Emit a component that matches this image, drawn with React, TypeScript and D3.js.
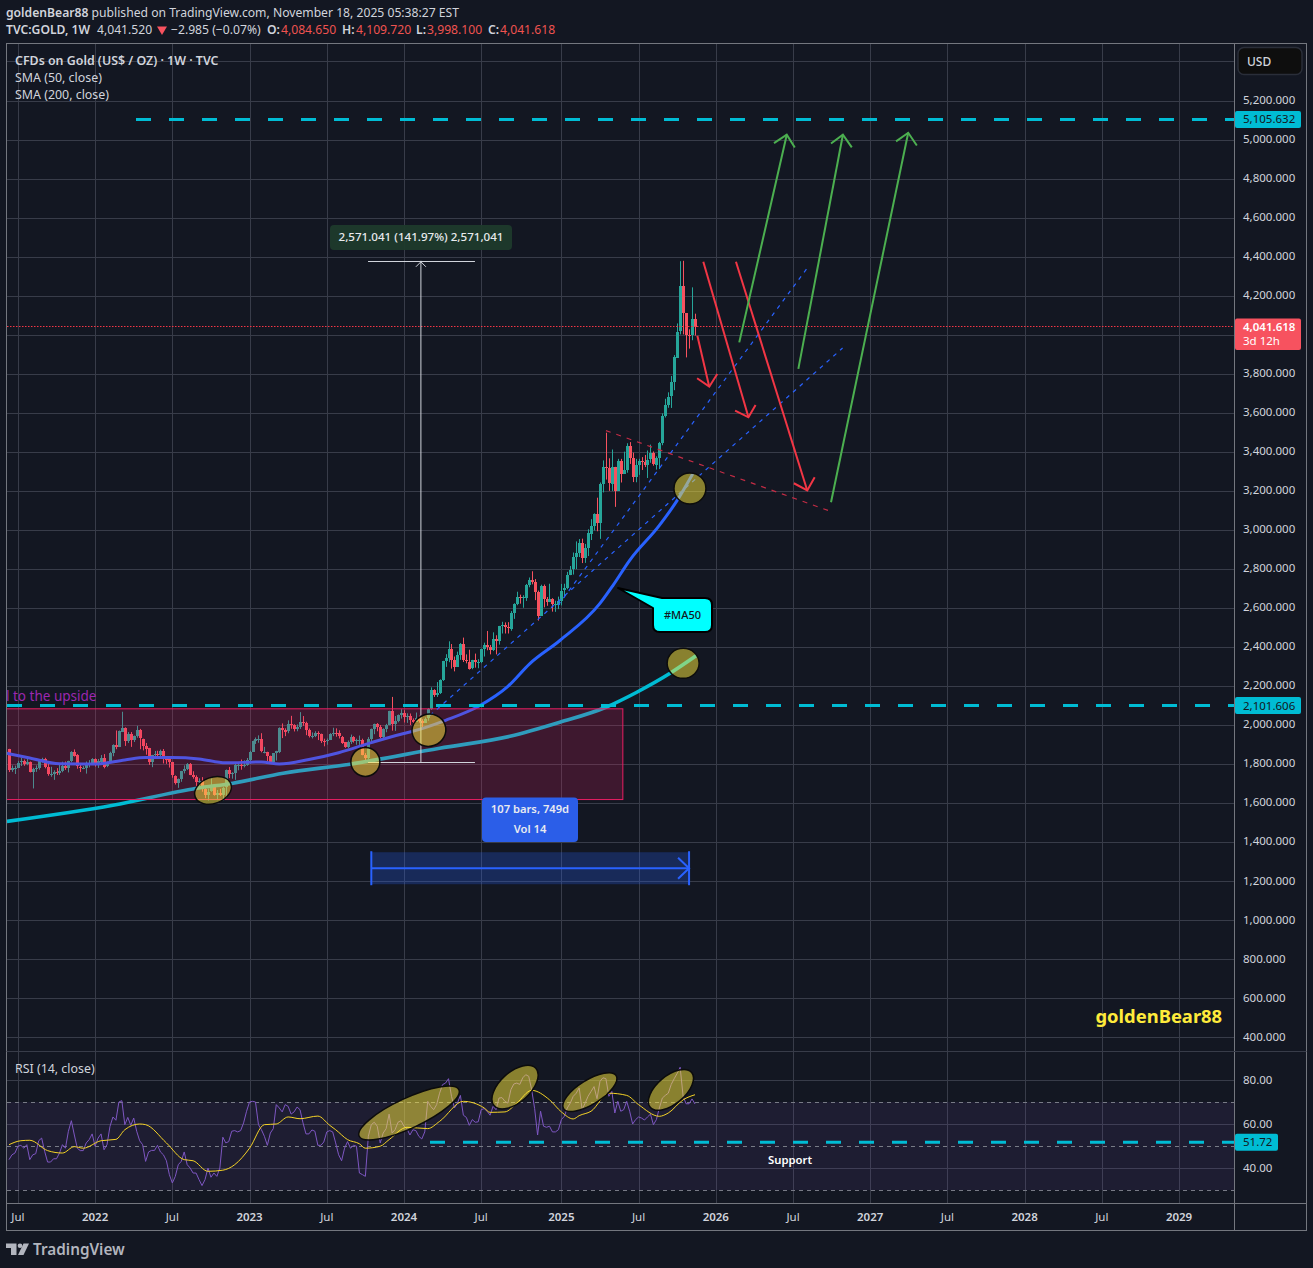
import React from "react";
import * as d3 from "d3";

const W = 1313;
const H = 1268;
const FONT = "'Noto Sans', sans-serif";

const firstDate = "2021-06-14";
const lastDate = "2025-11-17";
const firstOpen = 1879;

const closes = [
  1769,1781,1784,1808,1815,1802,1814,1763,1779,1781,1817,1828,1787,1751,1751,1761,1757,1768,1793,1783,1818,1865,1846,1788,1783,1783,1798,1808,1829,
  1797,1817,1835,1791,1808,1859,1899,1889,1970,1988,1921,1958,1925,1945,1975,1932,1896,1883,1811,1846,1853,1850,1871,1840,1827,1811,1742,1708,1727,1766,1775,1802,1747,1737,1712,1716,1675,1644,1661,1694,1644,1656,1644,1681,1769,1751,1754,1797,1797,1792,1798,1824,
  1865,1920,1928,1928,1865,1865,1842,1811,1856,1868,1989,1978,1969,2007,2004,1982,1990,2016,2011,1977,1946,1948,1961,1957,1921,1919,1925,1955,1961,1959,1943,1914,1889,1914,1940,1919,1924,1925,1849,1833,1932,1981,2006,1992,1940,1981,2001,2072,2004,2020,2053,2063,
  2045,2049,2029,2018,2039,2024,2013,2035,2083,2179,2155,2165,2233,2329,2344,2392,2337,2301,2360,2415,2334,2327,2293,2333,2321,2327,2392,2411,2400,2387,2443,2431,2507,2512,2503,2497,2577,2621,2658,2653,2656,2721,2747,2737,2685,2563,2715,2649,2633,2648,2621,2621,2640,
  2690,2702,2770,2798,2861,2883,2935,2857,2909,2984,3023,3084,3037,3237,3326,3319,3240,3325,3204,3357,3289,3310,3432,3368,3273,3337,3355,3350,3337,3362,3394,3336,3371,3447,3586,3643,3685,3759,3886,4017,4250,4113,4002,4001,4084,4041,
];
const highs = [
  1880,1795,1794,1818,1834,1825,1832,1815,1783,1795,1823,1834,1834,1809,1788,1770,1781,1801,1814,1815,1819,1868,1877,1853,1797,1792,1815,1822,1832,
  1831,1828,1848,1853,1815,1865,1903,1974,1974,2070,1990,1966,1966,1948,1998,1982,1920,1910,1885,1849,1869,1870,1876,1879,1841,1840,1813,1744,1728,1767,1795,1807,1807,1765,1744,1729,1735,1688,1676,1729,1695,1669,1675,1686,1774,1787,1760,1805,1810,1825,1821,1833,
  1870,1922,1938,1949,1960,1890,1864,1845,1858,1870,1990,2010,1985,2026,2049,2006,2005,2068,2048,2019,1984,1964,1970,1970,1958,1932,1933,1960,1988,1985,1975,1946,1915,1923,1953,1945,1932,1948,1932,1858,1940,1984,2009,2012,2002,1985,2008,2075,2146,2048,2056,2083,
  2078,2062,2061,2036,2066,2050,2032,2041,2089,2195,2185,2222,2236,2331,2365,2431,2417,2353,2378,2422,2450,2364,2388,2336,2368,2339,2393,2424,2484,2412,2477,2462,2510,2531,2528,2529,2586,2626,2685,2670,2667,2725,2758,2790,2750,2691,2721,2722,2658,2726,2652,2639,2660,
  2725,2726,2787,2817,2886,2943,2955,2957,2930,3005,3057,3087,3167,3245,3358,3500,3369,3414,3252,3366,3366,3403,3446,3452,3398,3366,3366,3375,3386,3409,3439,3404,3379,3453,3599,3674,3707,3791,3898,4060,4379,4381,4046,4030,4245,4110,
];
const lows = [
  1761,1762,1751,1782,1792,1793,1796,1759,1677,1762,1773,1809,1780,1742,1737,1721,1746,1746,1760,1772,1759,1811,1840,1778,1761,1776,1753,1785,1802,
  1789,1782,1805,1780,1786,1807,1842,1878,1890,1966,1895,1910,1890,1915,1937,1878,1872,1850,1798,1786,1829,1828,1828,1805,1803,1784,1732,1697,1680,1711,1754,1771,1745,1727,1688,1691,1660,1627,1615,1660,1640,1617,1638,1616,1629,1730,1727,1721,1770,1773,1785,1793,
  1802,1866,1905,1911,1862,1857,1817,1804,1804,1820,1858,1935,1945,1960,1983,1969,1970,1982,1998,1950,1938,1933,1940,1925,1910,1893,1901,1925,1945,1942,1933,1905,1885,1884,1905,1912,1901,1900,1847,1810,1825,1916,1955,1970,1934,1932,1965,2001,1973,1972,2016,2035,
  2015,2013,2002,2011,2022,2014,1984,2016,2024,2080,2146,2146,2161,2228,2300,2324,2291,2277,2300,2336,2325,2318,2286,2288,2296,2293,2319,2353,2385,2364,2381,2364,2414,2471,2471,2471,2485,2546,2616,2624,2603,2638,2708,2723,2642,2537,2563,2605,2613,2632,2583,2582,2596,
  2615,2656,2698,2772,2773,2801,2863,2832,2833,2868,2950,2999,2995,2956,3194,3260,3202,3202,3120,3205,3245,3294,3295,3340,3247,3246,3284,3309,3324,3268,3346,3331,3311,3314,3436,3578,3628,3627,3718,3887,4004,4004,3886,3931,3974,3998,
];
const rsi = [
  43.8,46,46.8,49.9,50.3,49,50.6,43.8,46,46.5,52.4,53.6,47.6,42.7,42.7,44.2,44.2,46.8,50.6,49,56.7,61.5,55,49,47.9,47.9,51.4,52.9,55.5,49.9,
  53.6,55.5,48.3,50.6,58.9,63.2,61.7,70,70.6,59.7,63,59.4,62.7,56.7,52.4,50.6,43,47.3,48,48,50.3,47.3,46,43.3,37,33.2,36.2,41.5,43,47.3,
  41.5,40,37.7,37.7,34.7,32,34.7,40,35.8,37.7,36.2,40,54,51.4,52,56.7,57,56.4,57,60.5,65.8,70,70.3,70,59.7,57.4,54.4,50.3,55.9,57.9,
  68.8,67.3,65.5,68.8,68,64.5,65.5,67.7,66.5,60.5,55.5,55.5,57.3,56.7,50.3,50.3,51.8,56.4,57,56.4,51.4,46,43.3,49,52,49,50.3,49.9,37.7,37,
  36.2,54.4,59.7,60.8,59,51.4,55.9,57.9,64.5,55.9,57.4,60.8,61.5,59,57.9,55,57.4,57,54.4,53.2,56.4,70.3,68,66.5,68.8,74,77.9,78.6,80.6,72.6,
  67.3,69.5,73,64,63,59.4,62,60.8,61,66.5,67,65.8,64,68,66.5,71.8,72,70.3,69.5,75.6,78.2,78.6,78,81,82.4,81.7,75.6,67,55,65.8,
  59,58.5,59,56.4,56.4,57.4,62,63.5,67.3,69.5,72.6,74,76.4,66.5,69.5,72.6,74.8,77,71.5,79.4,81,80.6,72.6,74.8,65,70.3,65.8,66.5,70.3,65.8,
  60,62,63.2,62.7,61.8,63.2,64.5,59.7,62,67.3,71.8,73,74,78,80.6,83,85.8,72.6,69.2,69.2,71.4,69.1,
];

const rsiMaBars = [0,4,7,13,18,22,25,31,36,39,44,46,53,59,62,67,72,76,81,86,90,94,98,104,108,110,114,118,120,125,128,134,141,145,153,160,162,167,171,176,182,186,190,192,196,202,208,212,219,222,227,231];
const rsiMaValues = [50.6,52.4,52.6,47.9,46.8,49.7,49,52.4,53,57.4,60,59.7,51.4,43.8,43.3,38.5,39,41.5,49,59.7,60,63.2,62.4,63.6,59.4,57.4,52.9,51,49,49.9,52.9,58.5,57.9,61.2,70.3,67.3,65.3,65.5,69.5,75.3,71,65.5,62.3,63.8,65.8,74,73,68.8,63.5,65,71,73.3];

const sma50Bars = [-0.7,7,17,29,39,46,55,64,73,85,91,101,111,122,132,135,147,158.6,168,175.4,185.5,199,203.4,209,219,225,230.3];
const sma50Values = [1857,1833,1803,1802,1823,1835,1835,1828,1808,1813,1802,1825,1860,1912,1955,1966,2026,2102,2200,2317,2435,2625,2718,2846,3025,3153,3291];
const sma200Bars = [-0.7,35,63.3,75.4,92.3,114.8,145,168.7,185.5,201,211.4,222.6,231.6];
const sma200Values = [1508,1591,1678,1704,1755,1801,1883,1944,2016,2093,2170,2267,2359];

const priceTicks = [5400,5200,5000,4800,4600,4400,4200,4000,3800,3600,3400,3200,3000,2800,2600,2400,2200,2000,1800,1600,1400,1200,1000,800,600,400];
const hiddenPriceLabels = [5400, 4000];
const rsiTicks = [80, 60, 40];
const timeTicks = ["2021-07-05","2022-01-03","2022-07-04","2023-01-02","2023-07-03","2024-01-01","2024-07-01","2025-01-06","2025-07-07","2026-01-05","2026-07-06","2027-01-04","2027-07-05","2028-01-03","2028-07-03","2029-01-01"];
const timeLabels = ["Jul","2022","Jul","2023","Jul","2024","Jul","2025","Jul","2026","Jul","2027","Jul","2028","Jul","2029"];

const level5105 = 5105.632;
const level2101 = 2101.606;
const levelRsi = 51.72;
const lastClose = 4041.618;

const redArrows = [
  [[231.8,3997],[235.8,3736],[231.7,3779],[238.5,3801]],
  [[233.8,4376],[249,3579],[244.5,3613],[251.4,3642]],
  [[244.8,4376],[268.8,3204],[264.3,3241],[271.3,3272]],
];
const greenArrows = [
  [[245.9,3963],[261.9,5027],[257.6,4984],[264.6,4962]],
  [[265.8,3827],[280.8,5027],[276.8,4982],[283.8,4962]],
  [[276.8,3144],[302.8,5037],[298.7,4993],[305.7,4972]],
];
const blueDashed = [
  [[184.9,2615],[268.8,4344]],
  [[141.8,2051],[280.7,3934]],
];
const redDashed = [[201,3511],[275.9,3101]];

const rectBars = [-1, 206.7];
const rectPrices = [2085, 1620];
const measureBar = 138.7;
const measureSpan = [120.9, 156.9];
const measurePrices = [1811, 4381];
const rangeBars = [122, 229];
const rangePrices = [1350, 1186, 1268];

const priceEllipses = [
  { bar: 68.7, price: 1667, rx: 19, ry: 13, rot: -20 },
  { bar: 120, price: 1813, rx: 14.5, ry: 14.5, rot: 0 },
  { bar: 141.4, price: 1975, rx: 17, ry: 16, rot: -20 },
  { bar: 229.3, price: 3214, rx: 16, ry: 15.5, rot: 0 },
  { bar: 227, price: 2318, rx: 16, ry: 15, rot: 0 },
];
const rsiEllipses = [
  { bar: 134.7, value: 65, rx: 55, ry: 15, rot: -25 },
  { bar: 170.4, value: 76.8, rx: 28, ry: 15, rot: -42 },
  { bar: 195.6, value: 74.5, rx: 31, ry: 12, rot: -32 },
  { bar: 222.9, value: 75.5, rx: 27, ry: 14, rot: -40 },
];

const WEEK = 7 * 24 * 3600 * 1000;
const t0 = new Date(firstDate + "T00:00:00Z").getTime();
const dateOf = (i: number) => new Date(t0 + i * WEEK);

const xTime = d3
  .scaleTime()
  .domain([new Date(firstDate + "T00:00:00Z"), new Date(lastDate + "T00:00:00Z")])
  .range([9, 695]);
const xb = (i: number) => xTime(dateOf(i));
const y = d3.scaleLinear().domain([400, 5200]).range([1037.6, 101]);
const yr = d3.scaleLinear().domain([30, 80]).range([1190, 1080]);

const UP = "#26a69a";
const DOWN = "#f7525f";
const GRID = "#383c49";
const BORDER = "#74777f";
const TXT = "#d1d4dc";
const CYAN = "#00bcd4";

const left = 7;
const right = 1234.5;
const top = 43.5;
const sep = 1051.5;
const bottom = 1203.5;

function seriesPath(bars: number[], vals: number[], scale: (v: number) => number, curve: d3.CurveFactory) {
  const l = d3
    .line<number>()
    .x((b) => xb(b))
    .y((_, i) => scale(vals[i]))
    .curve(curve);
  return l(bars) || "";
}

function segPath(pts: number[][]) {
  return d3.line<number[]>().x((p) => xb(p[0])).y((p) => y(p[1]))(pts) || "";
}

function Arrow({ a, color }: { a: number[][]; color: string }) {
  return (
    <g fill="none" stroke={color} strokeWidth={2}>
      <path d={segPath([a[0], a[1]])} />
      <path d={segPath([a[2], a[1], a[3]])} />
    </g>
  );
}

function T(p: any) {
  return <text fontFamily={FONT} fontSize={12} fill={TXT} {...p} />;
}

const ELL_FILL = "rgba(255,235,59,0.5)";
const HEAD = 12.16;
const AXIS = 11.5;
const LEG = 12.4;

export default function App() {
  const bars = closes.map((c, i) => {
    const o = i === 0 ? firstOpen : closes[i - 1];
    return { o, c, h: Math.max(highs[i], o, c), l: Math.min(lows[i], o, c), i };
  });
  const tickXs = timeTicks.map((t) => xTime(new Date(t + "T00:00:00Z")));
  const lastY = Math.floor(y(lastClose)) - 0.5;
  return (
    <svg
      width={W}
      height={H}
      viewBox={`0 0 ${W} ${H}`}
      style={{ position: "absolute", left: 0, top: 0, display: "block", background: "#131722" }}
    >
      <defs>
        <clipPath id="pane">
          <rect x={left} y={top} width={right - left} height={bottom - top} />
        </clipPath>
      </defs>
      <rect width={W} height={H} fill="#131722" />

      {/* grid */}
      <g stroke={GRID} strokeWidth={1}>
        {tickXs.map((tx, i) => (
          <line key={i} x1={Math.round(tx) + 0.5} x2={Math.round(tx) + 0.5} y1={top} y2={bottom} />
        ))}
        {priceTicks.map((p) => (
          <line key={p} x1={left} x2={right} y1={Math.floor(y(p)) + 0.5} y2={Math.floor(y(p)) + 0.5} />
        ))}
        {rsiTicks.map((p) => (
          <line key={p} x1={left} x2={right} y1={Math.round(yr(p)) + 0.5} y2={Math.round(yr(p)) + 0.5} />
        ))}
      </g>

      <g clipPath="url(#pane)">
        {/* candles */}
        {bars.map((b) => {
          const px = Math.round(xb(b.i));
          const col = b.c >= b.o ? UP : DOWN;
          const yo = y(b.o);
          const yc = y(b.c);
          const t = Math.round(Math.min(yo, yc));
          const hgt = Math.max(1, Math.round(Math.abs(yo - yc)));
          return (
            <g key={b.i} fill={col}>
              <rect x={px} y={y(b.h)} width={1} height={y(b.l) - y(b.h)} />
              <rect x={px - 1} y={t} width={3} height={hgt} />
            </g>
          );
        })}

        {/* moving averages */}
        <path d={seriesPath(sma200Bars, sma200Values, y, d3.curveMonotoneX)} fill="none" stroke={CYAN} strokeWidth={3.6} />
        <path d={seriesPath(sma50Bars, sma50Values, y, d3.curveMonotoneX)} fill="none" stroke="#2962ff" strokeWidth={3} />

        {/* highlighted range */}
        <rect
          x={xb(rectBars[0])}
          y={y(rectPrices[0])}
          width={xb(rectBars[1]) - xb(rectBars[0])}
          height={y(rectPrices[1]) - y(rectPrices[0])}
          fill="rgba(233,30,99,0.2)"
          stroke="#e91e63"
          strokeWidth={1}
        />

        {/* key levels */}
        <line x1={136} x2={right} y1={y(level5105)} y2={y(level5105)} stroke={CYAN} strokeWidth={3} strokeDasharray="15 18" />
        <line x1={left} x2={right} y1={y(level2101)} y2={y(level2101)} stroke={CYAN} strokeWidth={3} strokeDasharray="15 18" />
        <line x1={left} x2={right} y1={lastY} y2={lastY} stroke="#f23645" strokeWidth={1} strokeDasharray="1.5 1.5" />

        {/* trend lines */}
        {blueDashed.map((l, i) => (
          <path key={i} d={segPath(l)} fill="none" stroke="#2962ff" strokeWidth={1.2} strokeDasharray="4 5" />
        ))}
        <path d={segPath(redDashed)} fill="none" stroke="#c42c45" strokeWidth={1.2} strokeDasharray="5 6" />

        {redArrows.map((a, i) => (
          <Arrow key={i} a={a} color="#f23645" />
        ))}
        {greenArrows.map((a, i) => (
          <Arrow key={i} a={a} color="#4caf50" />
        ))}

        {/* price measure */}
        <g stroke="#d1d4dc" strokeWidth={1} fill="none">
          <line x1={xb(measureBar)} x2={xb(measureBar)} y1={y(measurePrices[0])} y2={y(measurePrices[1])} />
          <line x1={xb(measureSpan[0])} x2={xb(measureSpan[1])} y1={Math.round(y(measurePrices[0])) + 0.5} y2={Math.round(y(measurePrices[0])) + 0.5} />
          <line x1={xb(measureSpan[0])} x2={xb(measureSpan[1])} y1={Math.round(y(measurePrices[1])) + 0.5} y2={Math.round(y(measurePrices[1])) + 0.5} />
          <path d={`M${xb(measureBar) - 5},${y(measurePrices[1]) + 6}L${xb(measureBar)},${y(measurePrices[1]) + 1}L${xb(measureBar) + 5},${y(measurePrices[1]) + 6}`} />
        </g>

        {/* date range */}
        <rect
          x={xb(rangeBars[0])}
          y={y(rangePrices[0])}
          width={xb(rangeBars[1]) - xb(rangeBars[0])}
          height={y(rangePrices[1]) - y(rangePrices[0])}
          fill="rgba(41,98,255,0.25)"
        />
        <g stroke="#2962ff" strokeWidth={2} fill="none">
          <line x1={xb(rangeBars[0])} x2={xb(rangeBars[0])} y1={y(rangePrices[0]) - 1} y2={y(rangePrices[1]) + 1} />
          <line x1={xb(rangeBars[1])} x2={xb(rangeBars[1])} y1={y(rangePrices[0]) - 1} y2={y(rangePrices[1]) + 1} />
          <line x1={xb(rangeBars[0])} x2={xb(rangeBars[1])} y1={y(rangePrices[2])} y2={y(rangePrices[2])} />
          <path d={`M${xb(rangeBars[1]) - 11},${y(rangePrices[2]) - 10.5}L${xb(rangeBars[1])},${y(rangePrices[2])}L${xb(rangeBars[1]) - 11},${y(rangePrices[2]) + 10.5}`} />
        </g>

        {/* RSI */}
        <rect x={left} y={yr(70)} width={right - left} height={yr(30) - yr(70)} fill="rgba(126,87,194,0.1)" />
        {[70, 50, 30].map((v) => (
          <line key={v} x1={left} x2={right} y1={Math.round(yr(v)) + 0.5} y2={Math.round(yr(v)) + 0.5} stroke="#787b86" strokeWidth={1} strokeDasharray="4 4" />
        ))}
        <path d={seriesPath(closes.map((_, i) => i), rsi, yr, d3.curveLinear)} fill="none" stroke="#7e57c2" strokeWidth={1} />
        <path d={seriesPath(rsiMaBars, rsiMaValues, yr, d3.curveMonotoneX)} fill="none" stroke="#f5d327" strokeWidth={1} />
        <line x1={430} x2={right} y1={yr(levelRsi)} y2={yr(levelRsi)} stroke={CYAN} strokeWidth={3} strokeDasharray="15 18" />

        {/* highlighter ellipses */}
        {priceEllipses.map((e, i) => {
          const cx = xb(e.bar);
          const cy = y(e.price);
          return <ellipse key={i} cx={cx} cy={cy} rx={e.rx} ry={e.ry} transform={`rotate(${e.rot} ${cx} ${cy})`} fill={ELL_FILL} stroke="#0c0c0c" strokeWidth={1.5} />;
        })}
        {rsiEllipses.map((e, i) => {
          const cx = xb(e.bar);
          const cy = yr(e.value);
          return <ellipse key={i} cx={cx} cy={cy} rx={e.rx} ry={e.ry} transform={`rotate(${e.rot} ${cx} ${cy})`} fill={ELL_FILL} stroke="#0c0c0c" strokeWidth={1.5} />;
        })}
      </g>

      {/* pane borders */}
      <g stroke={BORDER} strokeWidth={1} fill="none">
        <rect x={6.5} y={43.5} width={1300} height={1187} />
        <line x1={1234.5} x2={1234.5} y1={43.5} y2={1230.5} />
        <line x1={6.5} x2={1306.5} y1={1203.5} y2={1203.5} />
      </g>
      <line x1={6.5} x2={1306.5} y1={sep} y2={sep} stroke={GRID} strokeWidth={1} />

      {/* header */}
      <T x={6} y={17} fontSize={HEAD}>
        <tspan fontWeight={600}>goldenBear88</tspan> published on TradingView.com, November 18, 2025 05:38:27 EST
      </T>
      <T x={6} y={34} fontSize={HEAD} fontWeight={600}>TVC:GOLD, 1W</T>
      <T x={97} y={34} fontSize={HEAD}>4,041.520</T>
      <path d="M157,26.5h10l-5,8.5z" fill="#f7525f" />
      <T x={171} y={34} fontSize={HEAD}>−2.985 (−0.07%)</T>
      <T x={267} y={34} fontSize={HEAD} fontWeight={600}>O:</T>
      <T x={281} y={34} fontSize={HEAD} fill="#ef5350">4,084.650</T>
      <T x={342} y={34} fontSize={HEAD} fontWeight={600}>H:</T>
      <T x={356} y={34} fontSize={HEAD} fill="#ef5350">4,109.720</T>
      <T x={416} y={34} fontSize={HEAD} fontWeight={600}>L:</T>
      <T x={427} y={34} fontSize={HEAD} fill="#ef5350">3,998.100</T>
      <T x={488} y={34} fontSize={HEAD} fontWeight={600}>C:</T>
      <T x={500} y={34} fontSize={HEAD} fill="#ef5350">4,041.618</T>

      {/* legends */}
      <T x={15} y={65} fontSize={LEG} fontWeight={600}>CFDs on Gold (US$ / OZ) · 1W · TVC</T>
      <T x={15} y={82} fontSize={LEG}>SMA (50, close)</T>
      <T x={15} y={99} fontSize={LEG}>SMA (200, close)</T>
      <T x={15} y={1073} fontSize={LEG}>RSI (14, close)</T>

      {/* right axis */}
      {priceTicks
        .filter((p) => !hiddenPriceLabels.includes(p))
        .map((p) => (
          <T key={p} x={1243} y={y(p) + 3} fontSize={AXIS}>{d3.format(",.3f")(p)}</T>
        ))}
      {rsiTicks.map((p) => (
        <T key={p} x={1243} y={yr(p) + 4} fontSize={AXIS}>{d3.format(".2f")(p)}</T>
      ))}
      <rect x={1238} y={47.5} width={64} height={27} rx={6} fill="#0e0e0e" stroke="#2a2e39" strokeWidth={1.5} />
      <T x={1247} y={66} fontWeight={500}>USD</T>

      <rect x={1235} y={y(level5105) - 8.5} width={66} height={17} rx={2} fill={CYAN} />
      <T x={1243} y={y(level5105) + 4} fontSize={AXIS} fill="#131722">{d3.format(",.3f")(level5105)}</T>
      <rect x={1235} y={y(level2101) - 8.5} width={66} height={17} rx={2} fill={CYAN} />
      <T x={1243} y={y(level2101) + 4} fontSize={AXIS} fill="#131722">{d3.format(",.3f")(level2101)}</T>
      <rect x={1235} y={lastY - 8} width={66} height={31.5} rx={2} fill="#f7525f" />
      <T x={1243} y={lastY + 4} fontSize={AXIS} fill="#ffffff" fontWeight={600}>{d3.format(",.3f")(lastClose)}</T>
      <T x={1243} y={lastY + 18.5} fontSize={AXIS} fill="#ffffff">3d 12h</T>
      <rect x={1235} y={yr(levelRsi) - 8.5} width={43} height={17} rx={2} fill={CYAN} />
      <T x={1243} y={yr(levelRsi) + 4} fontSize={AXIS} fill="#131722">{d3.format(".2f")(levelRsi)}</T>

      {/* time axis */}
      {tickXs.map((tx, i) => (
        <T key={i} x={tx} y={1221} fontSize={AXIS} textAnchor="middle" fontWeight={timeLabels[i] === "Jul" ? 400 : 600}>
          {timeLabels[i]}
        </T>
      ))}

      {/* labels */}
      <rect x={330} y={225} width={182} height={25} rx={4} fill="rgba(30,58,44,0.95)" />
      <T x={421} y={241} fontSize={11.6} textAnchor="middle" fill="#e8eaed" fontWeight={500}>2,571.041 (141.97%) 2,571,041</T>
      <rect x={482} y={797.5} width={96} height={44.5} rx={4} fill="#2b5ee8" />
      <T x={530} y={813} fontSize={11.2} textAnchor="middle" fill="#e8eaf0" fontWeight={600}>107 bars, 749d</T>
      <T x={530} y={833} fontSize={11.2} textAnchor="middle" fill="#e8eaf0" fontWeight={600}>Vol 14</T>

      <path
        d="M618,588L662,598H705Q712,598 712,605V625Q712,632 705,632H660Q653,632 653,625V608Z"
        fill="#00ffff"
        stroke="#000000"
        strokeWidth={2}
        strokeLinejoin="round"
      />
      <T x={682.5} y={619} fontSize={11} textAnchor="middle" fill="#131722" fontWeight={500}>#MA50</T>

      <T x={6} y={701} fontSize={13.5} fill="#9c27b0">l to the upside</T>
      <T x={790} y={1164} fontSize={11.3} textAnchor="middle" fill="#ffffff" fontWeight={600}>Support</T>
      <T x={1095.5} y={1023} fontSize={18.4} fontWeight={700} fill="#ffeb3b">goldenBear88</T>

      {/* logo */}
      <g fill="#b2b5be">
        <path d="M6,1243.5H16.5V1255H11V1248H6Z" />
        <circle cx={20} cy={1245.7} r={2.3} />
        <path d="M23.5,1243.5H29L23.5,1255H18Z" />
      </g>
      <T x={33} y={1255} fontSize={15.3} fontWeight={600} fill="#b2b5be">TradingView</T>
    </svg>
  );
}
